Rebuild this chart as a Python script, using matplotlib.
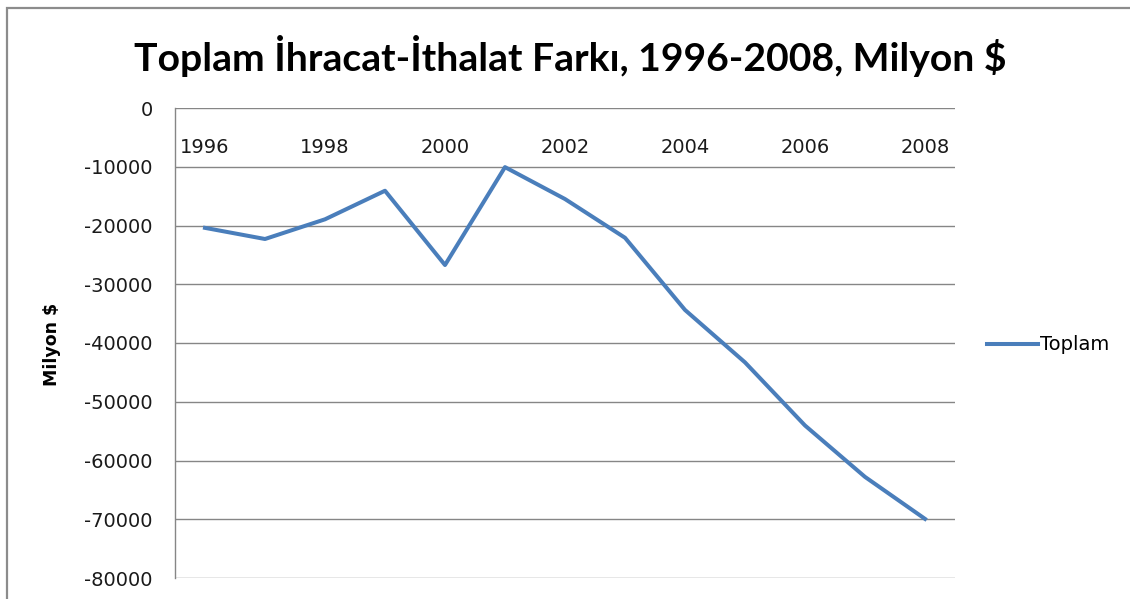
import matplotlib
matplotlib.use("Agg")
from matplotlib import pyplot as plt
from matplotlib.patches import Rectangle

years = [1996, 1997, 1998, 1999, 2000, 2001, 2002, 2003, 2004, 2005, 2006, 2007, 2008]
toplam = [-20402, -22298, -18947, -14084, -26728, -10065, -15495,
          -22087, -34373, -43298, -54041, -62791, -69936]
y_ticks = [0, -10000, -20000, -30000, -40000, -50000, -60000, -70000, -80000]

title = "Toplam İhracat-İthalat Farkı, 1996-2008, Milyon $"
line_color = "#4a7ebb"
grid_color = "#868686"

fig = plt.figure(figsize=(11.3, 5.99), dpi=100)
# outer chart border (only top and left are visible in the crop)
fig.patches.append(Rectangle((7 / 1130, -0.2), 1.2, 1.2 - 8 / 599,
                             transform=fig.transFigure, fill=False,
                             edgecolor="#8c8c8c", linewidth=1.6))

ax = fig.add_axes([175 / 1130, 1 - 578 / 599, 780 / 1130, 470 / 599])
x = list(range(len(years)))
ax.plot(x, toplam, color=line_color, linewidth=2.9, label="Toplam")

ax.set_xlim(-0.5, len(years) - 0.5)
ax.set_ylim(-80000, 0)
ax.set_yticks(y_ticks)
ax.set_yticklabels([str(v) for v in y_ticks])
ax.yaxis.grid(True, color=grid_color, linewidth=1)
ax.set_axisbelow(True)

# category labels hang under the 0 line
ax.xaxis.tick_top()
ax.set_xticks(x[::2])
ax.set_xticklabels([str(y) for y in years[::2]])

for side in ["top", "right", "bottom"]:
    ax.spines[side].set_visible(False)
ax.spines["left"].set_color(grid_color)
ax.spines["left"].set_linewidth(1)
ax.tick_params(axis="both", length=0, labelsize=14, colors="#1a1a1a")
ax.tick_params(axis="y", pad=16)
ax.tick_params(axis="x", pad=-35)

ax.set_ylabel("Milyon $", fontsize=12.5, fontweight="bold")
ax.yaxis.set_label_coords((61 - 175) / 780, (578 - 344) / 470)

fig.text(0.5046, 0.906, title, ha="center", va="center",
         fontsize=28.2, fontweight="bold", family="Lato")

fig.legend(handles=ax.get_lines(), loc="center left",
           bbox_to_anchor=(987 / 1130, 1 - 345 / 599), frameon=False,
           fontsize=14, handlelength=2.6, handletextpad=0.1,
           borderpad=0, borderaxespad=0)

fig.savefig("out.png", dpi=100)
